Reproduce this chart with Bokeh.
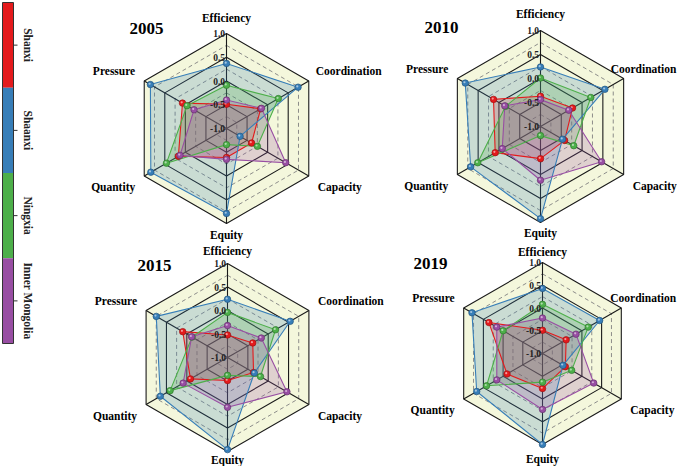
import numpy as np
from bokeh.plotting import figure
from bokeh.models import Range1d, ColumnDataSource
from bokeh.core.properties import value
from bokeh.embed import file_html
from bokeh.resources import INLINE

# ---------------- data ----------------
axis_names = ["Efficiency", "Coordination", "Capacity", "Equity", "Quantity", "Pressure"]
regions = ["Shanxi", "Shaanxi", "Ningxia", "Inner Mongolia"]
colors = ["#e41a1c", "#377eb8", "#4daf4a", "#984ea3"]
years = ["2005", "2010", "2015", "2019"]
tick_values = [1.0, 0.5, 0.0, -0.5, -1.0]
tick_labels = ["1.0", "0.5", "0.0", "-0.5", "-1.0"]

shanxi_2005 = [-0.49, -0.17, -0.39, -0.39, 0.17, 0.07]
shaanxi_2005 = [0.37, 0.74, -0.67, 0.79, 0.84, 0.85]
ningxia_2005 = [-0.09, 0.26, -0.25, -0.66, 0.46, -0.04]
inner_mongolia_2005 = [-0.40, -0.15, 0.44, -0.35, 0.13, -0.21]

shanxi_2010 = [-0.37, -0.23, -0.42, -0.33, 0.09, 0.13]
shaanxi_2010 = [0.24, 0.55, -0.47, 0.92, 0.68, 0.81]
ningxia_2010 = [0.01, 0.21, -0.20, -0.81, 0.51, -0.16]
inner_mongolia_2010 = [-0.44, -0.32, 0.47, 0.12, -0.08, -0.14]

shanxi_2015 = [-0.52, -0.38, -0.36, -0.51, -0.09, 0.10]
shaanxi_2015 = [0.24, 0.54, -0.34, 0.96, 0.65, 0.75]
ningxia_2015 = [-0.04, 0.18, -0.19, -0.62, 0.41, -0.13]
inner_mongolia_2015 = [-0.32, -0.17, 0.46, 0.06, 0.09, -0.12]

shanxi_2019 = [-0.49, -0.40, -0.42, -0.23, -0.10, 0.36]
shaanxi_2019 = [0.43, 0.45, -0.48, 1.00, 0.67, 0.79]
ningxia_2019 = [0.08, 0.16, -0.26, -0.37, 0.42, 0.00]
inner_mongolia_2019 = [-0.22, -0.15, 0.30, 0.23, 0.16, 0.16]

series = {
    "2005": [shanxi_2005, shaanxi_2005, ningxia_2005, inner_mongolia_2005],
    "2010": [shanxi_2010, shaanxi_2010, ningxia_2010, inner_mongolia_2010],
    "2015": [shanxi_2015, shaanxi_2015, ningxia_2015, inner_mongolia_2015],
    "2019": [shanxi_2019, shaanxi_2019, ningxia_2019, inner_mongolia_2019],
}

# ---------------- layout (pixel coordinates) ----------------
W, H = 677, 466
panels = {
    "2005": dict(cx=226, cy=128, R=95, tx=146, ty=28, coord_dx=-2, top_dy=16, bot_dy=11),
    "2010": dict(cx=540, cy=126, R=96, tx=441, ty=27, coord_dx=-22, top_dy=17, bot_dy=10),
    "2015": dict(cx=227, cy=357, R=94, tx=154, ty=265, coord_dx=0, top_dy=13, bot_dy=8),
    "2019": dict(cx=542, cy=353, R=91, tx=430, ty=263, coord_dx=-20, top_dy=11, bot_dy=14),
}
VMIN, VMAX = -1.0, 1.0
theta = np.deg2rad(90 - 60 * np.arange(6))
SERIF = value("Liberation Serif")
dark = ["#9e1214", "#24567f", "#2f7a2d", "#67336f"]

p = figure(width=W, height=H, x_range=Range1d(0, W), y_range=Range1d(H, 0),
           output_backend="svg", toolbar_location=None, min_border=0,
           x_axis_type=None, y_axis_type=None)
p.grid.visible = False
p.outline_line_color = None
p.background_fill_color = "white"


def to_xy(vals, cx, cy, R):
    r = (np.asarray(vals, dtype=float) - VMIN) / (VMAX - VMIN) * R
    return cx + r * np.cos(theta), cy - r * np.sin(theta)


for yr in years:
    L = panels[yr]
    cx, cy, R = L["cx"], L["cy"], L["R"]
    # background
    bx, by = to_xy([VMAX] * 6, cx, cy, R)
    p.patch(list(bx), list(by), fill_color="#f4f7dc", line_color=None)
    # dashed rings
    dxs, dys = [], []
    for v in [0.75, 0.25, -0.25, -0.75]:
        x, y = to_xy([v] * 6, cx, cy, R)
        dxs.append(list(x) + [x[0]]); dys.append(list(y) + [y[0]])
    p.multi_line(dxs, dys, line_color="#808080", line_width=0.9, line_dash="4 3")
    # solid rings
    sxs, sys_ = [], []
    for v in [1.0, 0.5, 0.0, -0.5]:
        x, y = to_xy([v] * 6, cx, cy, R)
        sxs.append(list(x) + [x[0]]); sys_.append(list(y) + [y[0]])
    p.multi_line(sxs, sys_, line_color="#1a1a1a", line_width=1.1)
    # spokes
    p.segment(x0=[cx] * 6, y0=[cy] * 6, x1=list(bx), y1=list(by), line_color="#1a1a1a", line_width=1.1)

    # series polygons
    for vals, c in zip(series[yr], colors):
        x, y = to_xy(vals, cx, cy, R)
        p.patch(list(x), list(y), fill_color=c, fill_alpha=0.22, line_color=None)
    for vals, c in zip(series[yr], colors):
        x, y = to_xy(vals, cx, cy, R)
        p.line(list(x) + [x[0]], list(y) + [y[0]], line_color=c, line_width=1.1)
    for vals, c, d in zip(series[yr], colors, dark):
        x, y = to_xy(vals, cx, cy, R)
        p.scatter(list(x), list(y), marker="circle", size=6.5, fill_color=c, line_color=d, line_width=0.7)
        p.scatter(list(x - 0.8), list(y - 0.8), marker="circle", size=2.2, fill_color="white",
                  fill_alpha=0.55, line_color=None)

    # tick labels along top spoke
    tr = (np.array(tick_values) - VMIN) / (VMAX - VMIN) * R
    p.text(x=[cx - 1.5] * len(tick_values), y=list(cy - tr), text=tick_labels,
           text_align="right", text_baseline="middle", text_font=SERIF,
           text_font_style="bold", text_font_size="9.5px", text_color="#222222")

    # axis labels
    c30, s30 = np.cos(np.pi / 6), 0.5
    lx = [cx, cx + c30 * R + 9 + L["coord_dx"], cx + c30 * R + 9, cx, cx - c30 * R - 9, cx - c30 * R - 9]
    ly = [cy - R - L["top_dy"], cy - s30 * R - 10, cy + s30 * R + 11, cy + R + L["bot_dy"],
          cy + s30 * R + 11, cy - s30 * R - 10]
    al = ["center", "left", "left", "center", "right", "right"]
    src = ColumnDataSource(dict(x=lx, y=ly, t=axis_names, a=al))
    p.text(x="x", y="y", text="t", text_align="a", source=src, text_baseline="middle",
           text_font=SERIF, text_font_style="bold", text_font_size="11.5px", text_color="black")

    # year title
    p.text(x=[L["tx"]], y=[L["ty"]], text=[yr], text_align="center", text_baseline="middle",
           text_font=SERIF, text_font_style="bold", text_font_size="17px", text_color="black")

# ---------------- legend colour strip ----------------
bar_left, bar_right, bar_top, bar_bottom = 2, 13, 2, 343
edges = np.linspace(bar_top, bar_bottom, len(regions) + 1)
p.quad(left=[bar_left] * 4, right=[bar_right] * 4, top=list(edges[:-1]), bottom=list(edges[1:]),
       fill_color=colors, line_color=None)
p.quad(left=[bar_left], right=[bar_right], top=[bar_top], bottom=[bar_bottom],
       fill_color=None, line_color="#333333", line_width=1)
mids = (edges[:-1] + edges[1:]) / 2
p.segment(x0=[bar_right] * 4, x1=[bar_right + 4] * 4, y0=list(mids), y1=list(mids),
          line_color="#333333", line_width=1)
p.text(x=[bar_right + 14] * 4, y=list(mids), text=regions, angle=-np.pi / 2,
       text_align="center", text_baseline="middle", text_font=SERIF,
       text_font_style="bold", text_font_size="11.5px", text_color="#222222")

open("out.html", "w").write(file_html(p, INLINE))
